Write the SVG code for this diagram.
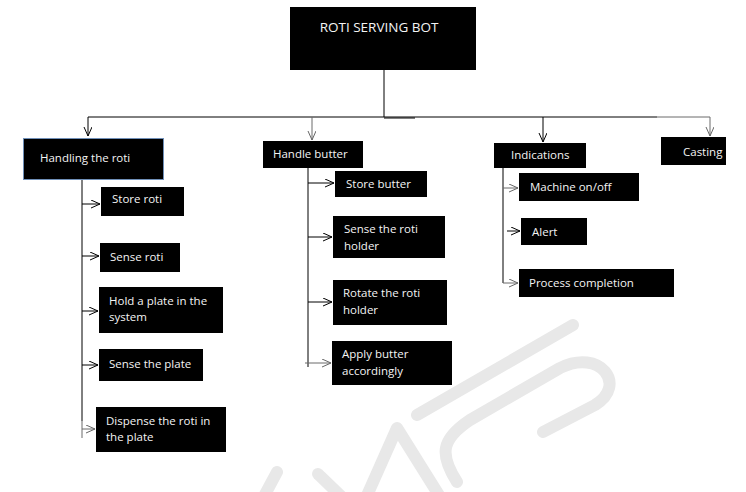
<svg xmlns="http://www.w3.org/2000/svg" width="746" height="492" viewBox="0 0 746 492">
<defs>
<marker id="arr" markerUnits="userSpaceOnUse" markerWidth="12" markerHeight="12" refX="9" refY="4" orient="auto">
<path d="M0,0 L9,4 L0,8" fill="none" stroke="#000" stroke-width="1"/>
</marker>
<marker id="arrg" markerUnits="userSpaceOnUse" markerWidth="12" markerHeight="12" refX="9" refY="4" orient="auto">
<path d="M0,0 L9,4 L0,8" fill="none" stroke="#666" stroke-width="1"/>
</marker>
<style>
.box{fill:#000;}
.t{font-family:"Open Sans","Noto Sans",sans-serif;font-size:11.5px;fill:#f4f4f4;}
.ttl{font-family:"Open Sans","Noto Sans",sans-serif;font-size:13.5px;fill:#f4f4f4;}
.c{fill:none;stroke:#000;stroke-width:1;}
.g{fill:none;stroke:#6a6a6a;stroke-width:1;}
.a{marker-end:url(#arr);}
.ag{marker-end:url(#arrg);}
.wm{fill:none;stroke:#e8e8e8;stroke-width:12;stroke-linecap:round;stroke-linejoin:round;}
</style>
</defs>
<rect width="746" height="492" fill="#fff"/>
<g id="watermark">
<path class="wm" d="M573,325 L417,415"/>
<path class="wm" d="M457,482 C440,455 440,440 470,420 L560,368 C600,348 628,385 595,405 L543,432"/>
<path class="wm" d="M365,500 L397,428 L442,500"/>
<path class="wm" d="M318,474 L345,500"/>
<path class="wm" d="M277,472 L262,500"/>
</g>
<g id="connectors">
<path class="c" d="M384,70 V117"/>
<path class="c" d="M88,117 H657"/>
<path class="g" d="M657,117 H710"/>
<path class="c" d="M384,118 H415" stroke-width="1.5"/>
<path class="c a" d="M88,117 V136"/>
<path class="g ag" d="M312,117 V140"/>
<path class="c a" d="M543,117 V142"/>
<path class="g ag" d="M710,117 V136"/>
<path class="c" d="M82,179 V421"/>
<path class="g" d="M82,421 V438"/>
<path class="c a" d="M82,204 H100"/>
<path class="c a" d="M82,256 H99"/>
<path class="c a" d="M82,311 H98"/>
<path class="c a" d="M82,365 H98"/>
<path class="g ag" d="M82,429 H95"/>
<path class="c" d="M308,168 V367"/>
<path class="c a" d="M308,183 H334"/>
<path class="c a" d="M308,237 H332"/>
<path class="c a" d="M308,302 H332"/>
<path class="g ag" d="M305,363 H331"/>
<path class="c" d="M503,168 V283"/>
<path class="g ag" d="M503,188 H518"/>
<path class="c a" d="M507,231 H520"/>
<path class="g ag" d="M503,283 H518"/>
</g>
<g id="title">
<rect class="box" x="290" y="7" width="186" height="63"/>
<text class="ttl" x="379" y="32" text-anchor="middle">ROTI SERVING BOT</text>
</g>
<g id="handling">
<rect class="box" x="23.5" y="138.5" width="140" height="41" stroke="#6f8fb8" stroke-width="1"/>
<text class="t" x="40" y="162">Handling the roti</text>
</g>
<g id="store-roti">
<rect class="box" x="101" y="187" width="83" height="29"/>
<text class="t" x="112" y="203">Store roti</text>
</g>
<g id="sense-roti">
<rect class="box" x="100" y="243" width="80" height="29"/>
<text class="t" x="110" y="261">Sense roti</text>
</g>
<g id="hold-plate">
<rect class="box" x="99" y="287" width="124" height="46"/>
<text class="t" x="109" y="305">Hold a plate in the</text>
<text class="t" x="109" y="321">system</text>
</g>
<g id="sense-plate">
<rect class="box" x="99" y="349" width="104" height="32"/>
<text class="t" x="109" y="368">Sense the plate</text>
</g>
<g id="dispense">
<rect class="box" x="96" y="407" width="130" height="45"/>
<text class="t" x="106" y="425">Dispense the roti in</text>
<text class="t" x="106" y="441">the plate</text>
</g>
<g id="handle-butter">
<rect class="box" x="263" y="141" width="100" height="27"/>
<text class="t" x="273" y="158">Handle butter</text>
</g>
<g id="store-butter">
<rect class="box" x="335" y="171" width="92" height="26"/>
<text class="t" x="346" y="188">Store butter</text>
</g>
<g id="sense-holder">
<rect class="box" x="333" y="216" width="112" height="42"/>
<text class="t" x="344" y="233">Sense the roti</text>
<text class="t" x="344" y="250">holder</text>
</g>
<g id="rotate-holder">
<rect class="box" x="333" y="280" width="114" height="45"/>
<text class="t" x="343" y="297">Rotate the roti</text>
<text class="t" x="343" y="314">holder</text>
</g>
<g id="apply-butter">
<rect class="box" x="332" y="341" width="120" height="44"/>
<text class="t" x="342" y="358">Apply butter</text>
<text class="t" x="342" y="375">accordingly</text>
</g>
<g id="indications">
<rect class="box" x="494" y="143" width="92" height="25"/>
<text class="t" x="511" y="159">Indications</text>
</g>
<g id="machine">
<rect class="box" x="519" y="173" width="120" height="28"/>
<text class="t" x="530" y="191">Machine on/off</text>
</g>
<g id="alert">
<rect class="box" x="521" y="218" width="66" height="27"/>
<text class="t" x="532" y="236">Alert</text>
</g>
<g id="process">
<rect class="box" x="519" y="269" width="155" height="28"/>
<text class="t" x="529" y="287">Process completion</text>
</g>
<g id="casting">
<rect class="box" x="661" y="137" width="65" height="28"/>
<text class="t" x="683" y="156">Casting</text>
</g>
</svg>
